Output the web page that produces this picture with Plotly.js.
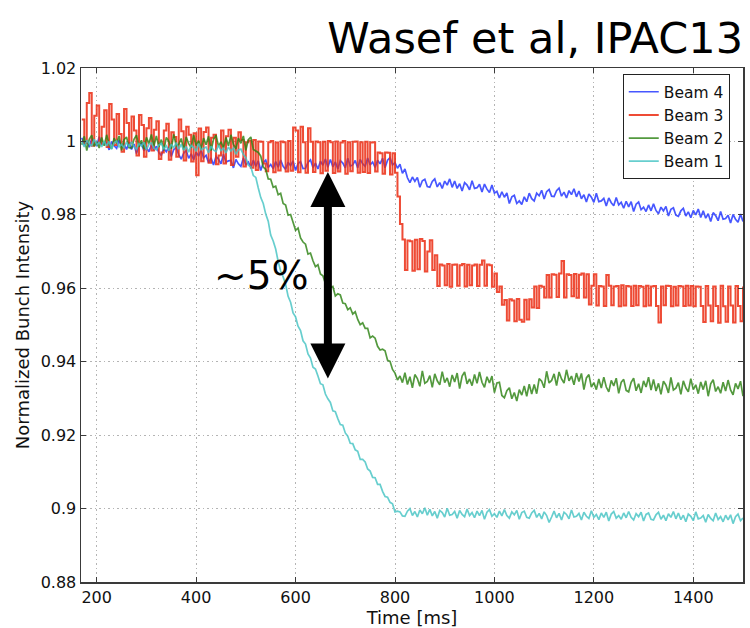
<!DOCTYPE html>
<html>
<head>
<meta charset="utf-8">
<script src="https://cdn.plot.ly/plotly-3.0.1.min.js"></script>
<style>html,body{margin:0;padding:0;background:#fff;}#chart{width:750px;height:628px;}</style>
</head>
<body>
<div id="chart"></div>
<script>
// Sampling grid: 170 ms to 1500 ms, 5 ms step (267 samples)
const tStart = 170, tStep = 5, nSamples = 267;

const seriesNames = ["Beam 4", "Beam 3", "Beam 2", "Beam 1"];

const beam4 = [
1.0010,0.9990,1.0003,0.9984,1.0007,1.0000,0.9987,1.0013,0.9992,0.9995,
0.9997,0.9977,1.0000,0.9988,0.9981,1.0004,0.9985,0.9993,0.9978,0.9998,
0.9978,0.9993,0.9967,0.9988,0.9995,0.9975,0.9983,0.9972,0.9991,0.9976,
0.9987,0.9970,0.9962,0.9981,0.9972,0.9985,0.9959,0.9978,0.9983,0.9964,
0.9952,0.9968,0.9975,0.9954,0.9966,0.9950,0.9971,0.9960,0.9977,0.9955,
0.9962,0.9942,0.9955,0.9936,0.9959,0.9952,0.9939,0.9965,0.9944,0.9947,
0.9948,0.9928,0.9951,0.9939,0.9932,0.9955,0.9936,0.9944,0.9929,0.9949,
0.9932,0.9947,0.9921,0.9942,0.9949,0.9929,0.9937,0.9926,0.9945,0.9930,
0.9949,0.9932,0.9924,0.9943,0.9934,0.9947,0.9921,0.9940,0.9945,0.9926,
0.9927,0.9943,0.9950,0.9929,0.9941,0.9925,0.9946,0.9935,0.9952,0.9930,
0.9951,0.9931,0.9944,0.9925,0.9948,0.9941,0.9928,0.9954,0.9933,0.9936,
0.9948,0.9928,0.9951,0.9939,0.9932,0.9955,0.9936,0.9944,0.9929,0.9949,
0.9939,0.9954,0.9928,0.9949,0.9956,0.9936,0.9942,0.9927,0.9938,0.9913,
0.9925,0.9901,0.9888,0.9903,0.9891,0.9902,0.9875,0.9893,0.9897,0.9877,
0.9875,0.9891,0.9898,0.9876,0.9888,0.9872,0.9892,0.9881,0.9898,0.9875,
0.9892,0.9872,0.9885,0.9865,0.9888,0.9881,0.9868,0.9893,0.9872,0.9874,
0.9883,0.9862,0.9884,0.9870,0.9861,0.9881,0.9859,0.9864,0.9846,0.9863,
0.9848,0.9860,0.9831,0.9849,0.9853,0.9831,0.9838,0.9828,0.9849,0.9836,
0.9859,0.9844,0.9838,0.9859,0.9852,0.9867,0.9843,0.9863,0.9869,0.9851,
0.9850,0.9866,0.9873,0.9851,0.9862,0.9846,0.9866,0.9855,0.9871,0.9849,
0.9865,0.9844,0.9855,0.9835,0.9857,0.9848,0.9834,0.9859,0.9836,0.9838,
0.9845,0.9824,0.9846,0.9833,0.9825,0.9847,0.9827,0.9834,0.9818,0.9837,
0.9822,0.9836,0.9809,0.9829,0.9835,0.9814,0.9821,0.9809,0.9827,0.9811,
0.9830,0.9812,0.9803,0.9821,0.9811,0.9823,0.9797,0.9815,0.9819,0.9799,
0.9796,0.9811,0.9818,0.9797,0.9808,0.9792,0.9812,0.9800,0.9816,0.9793,
0.9811,0.9791,0.9803,0.9782,0.9806,0.9798,0.9784,0.9809,0.9788,0.9790,
0.9799,0.9778,0.9801,0.9788,0.9780,0.9802,0.9782
];

const beam3 = [
1.0060,0.9995,1.0105,1.0132,0.9988,1.0070,1.0098,0.9992,1.0040,1.0085,
0.9985,1.0102,1.0060,0.9990,1.0075,1.0020,0.9972,1.0088,1.0050,0.9995,
1.0068,1.0030,0.9962,1.0072,1.0045,0.9958,1.0036,1.0064,0.9975,1.0032,
1.0055,0.9952,0.9970,1.0030,1.0048,0.9950,1.0025,1.0012,0.9958,1.0060,
1.0028,0.9948,1.0040,1.0018,0.9945,1.0022,0.9908,1.0035,0.9946,1.0026,
1.0038,0.9942,1.0010,1.0018,0.9938,0.9962,1.0030,0.9940,1.0014,1.0032,
0.9936,1.0010,0.9958,1.0025,1.0004,0.9932,0.9998,1.0002,0.9928,1.0004,
0.9922,1.0000,0.9999,0.9940,0.9919,0.9998,1.0001,0.9916,0.9997,0.9921,
1.0000,0.9998,0.9918,1.0001,0.9920,1.0038,1.0030,0.9916,1.0040,0.9998,
0.9915,1.0036,0.9999,0.9917,1.0000,0.9998,0.9913,0.9999,0.9920,1.0001,
0.9998,0.9914,1.0000,0.9918,0.9997,1.0001,0.9912,0.9998,0.9919,0.9999,
1.0000,0.9915,0.9998,0.9917,0.9999,0.9914,0.9997,0.9998,0.9918,0.9970,
0.9968,0.9912,0.9970,0.9969,0.9910,0.9968,0.9915,0.9850,0.9775,0.9733,
0.9650,0.9730,0.9728,0.9648,0.9732,0.9652,0.9734,0.9729,0.9646,0.9700,
0.9731,0.9650,0.9690,0.9606,0.9665,0.9662,0.9608,0.9666,0.9604,0.9664,
0.9665,0.9607,0.9663,0.9666,0.9605,0.9664,0.9608,0.9662,0.9665,0.9606,
0.9664,0.9676,0.9607,0.9665,0.9663,0.9604,0.9640,0.9590,0.9605,0.9555,
0.9568,0.9512,0.9570,0.9567,0.9510,0.9571,0.9514,0.9509,0.9569,0.9515,
0.9570,0.9548,0.9605,0.9546,0.9607,0.9604,0.9575,0.9636,0.9575,0.9638,
0.9637,0.9576,0.9640,0.9674,0.9575,0.9638,0.9636,0.9578,0.9639,0.9574,
0.9637,0.9640,0.9575,0.9638,0.9556,0.9607,0.9638,0.9553,0.9606,0.9605,
0.9552,0.9636,0.9607,0.9554,0.9605,0.9606,0.9551,0.9608,0.9553,0.9606,
0.9605,0.9552,0.9607,0.9554,0.9606,0.9604,0.9551,0.9607,0.9553,0.9605,
0.9606,0.9552,0.9507,0.9605,0.9554,0.9607,0.9606,0.9551,0.9604,0.9553,
0.9606,0.9605,0.9552,0.9607,0.9553,0.9606,0.9551,0.9605,0.9604,0.9552,
0.9508,0.9606,0.9553,0.9510,0.9605,0.9552,0.9506,0.9607,0.9551,0.9509,
0.9605,0.9553,0.9507,0.9606,0.9552,0.9510,0.9605
];

const beam2 = [
0.9991,1.0014,0.9975,1.0006,1.0017,0.9987,0.9999,0.9982,1.0011,0.9988,
1.0018,0.9992,0.9980,1.0009,0.9995,1.0015,0.9976,1.0005,1.0012,0.9983,
0.9982,1.0006,1.0017,0.9985,1.0003,0.9979,1.0011,0.9994,1.0019,0.9987,
1.0015,0.9985,1.0005,0.9976,1.0011,1.0000,0.9980,1.0019,0.9988,0.9992,
1.0008,0.9977,1.0012,0.9994,0.9983,1.0018,0.9989,1.0002,0.9979,1.0009,
0.9991,1.0014,0.9975,1.0006,1.0017,0.9987,0.9999,0.9982,1.0011,0.9988,
1.0018,0.9992,0.9980,1.0009,0.9995,1.0015,0.9976,1.0005,1.0012,0.9978,
0.9974,0.9970,0.9960,0.9930,0.9924,0.9898,0.9897,0.9875,0.9878,0.9855,
0.9859,0.9831,0.9827,0.9799,0.9801,0.9782,0.9758,0.9764,0.9737,0.9726,
0.9720,0.9693,0.9696,0.9675,0.9659,0.9664,0.9639,0.9634,0.9613,0.9619,
0.9602,0.9605,0.9579,0.9585,0.9582,0.9560,0.9558,0.9542,0.9547,0.9530,
0.9536,0.9515,0.9501,0.9506,0.9491,0.9491,0.9465,0.9470,0.9464,0.9442,
0.9432,0.9434,0.9430,0.9404,0.9401,0.9379,0.9369,0.9350,0.9361,0.9343,
0.9370,0.9338,0.9359,0.9329,0.9365,0.9354,0.9333,0.9375,0.9341,0.9346,
0.9362,0.9330,0.9367,0.9348,0.9337,0.9373,0.9343,0.9356,0.9332,0.9364,
0.9345,0.9369,0.9327,0.9361,0.9372,0.9340,0.9353,0.9335,0.9365,0.9341,
0.9372,0.9344,0.9330,0.9359,0.9342,0.9361,0.9316,0.9342,0.9344,0.9308,
0.9302,0.9321,0.9329,0.9299,0.9316,0.9293,0.9324,0.9309,0.9334,0.9306,
0.9339,0.9312,0.9338,0.9313,0.9354,0.9347,0.9329,0.9374,0.9342,0.9349,
0.9367,0.9335,0.9372,0.9353,0.9342,0.9378,0.9348,0.9361,0.9337,0.9369,
0.9346,0.9368,0.9324,0.9356,0.9365,0.9331,0.9343,0.9324,0.9353,0.9328,
0.9358,0.9331,0.9318,0.9349,0.9334,0.9355,0.9314,0.9344,0.9352,0.9322,
0.9318,0.9344,0.9355,0.9321,0.9340,0.9315,0.9348,0.9331,0.9358,0.9323,
0.9352,0.9320,0.9341,0.9311,0.9347,0.9336,0.9315,0.9357,0.9323,0.9328,
0.9343,0.9311,0.9348,0.9329,0.9318,0.9354,0.9324,0.9337,0.9313,0.9345,
0.9324,0.9348,0.9306,0.9340,0.9351,0.9319,0.9332,0.9314,0.9344,0.9320,
0.9350,0.9323,0.9310,0.9341,0.9326,0.9347,0.9306
];

const beam1 = [
1.0001,0.9985,1.0003,0.9993,0.9988,1.0006,0.9991,0.9997,0.9985,1.0001,
0.9988,1.0000,0.9979,0.9996,1.0001,0.9985,0.9992,0.9983,0.9998,0.9986,
0.9999,0.9986,0.9979,0.9994,0.9987,0.9998,0.9977,0.9992,0.9996,0.9981,
0.9977,0.9990,0.9995,0.9979,0.9988,0.9975,0.9992,0.9983,0.9997,0.9979,
0.9992,0.9976,0.9986,0.9971,0.9989,0.9984,0.9973,0.9994,0.9977,0.9980,
0.9985,0.9969,0.9987,0.9977,0.9972,0.9990,0.9975,0.9981,0.9969,0.9985,
0.9974,0.9982,0.9965,0.9977,0.9979,0.9964,0.9956,0.9935,0.9931,0.9907,
0.9902,0.9873,0.9847,0.9831,0.9802,0.9783,0.9745,0.9729,0.9707,0.9673,
0.9647,0.9631,0.9611,0.9578,0.9562,0.9533,0.9522,0.9497,0.9485,0.9457,
0.9448,0.9421,0.9410,0.9385,0.9380,0.9361,0.9340,0.9337,0.9312,0.9299,
0.9289,0.9266,0.9264,0.9245,0.9229,0.9227,0.9206,0.9197,0.9178,0.9177,
0.9160,0.9156,0.9134,0.9134,0.9127,0.9108,0.9102,0.9085,0.9084,0.9066,
0.9066,0.9047,0.9033,0.9031,0.9017,0.9013,0.8991,0.8993,0.8991,0.8980,
0.8979,0.8993,0.9000,0.8981,0.8992,0.8977,0.8996,0.8986,0.9002,0.8982,
0.8998,0.8980,0.8992,0.8974,0.8995,0.8989,0.8977,0.9001,0.8982,0.8984,
0.8992,0.8974,0.8995,0.8984,0.8978,0.8999,0.8981,0.8989,0.8975,0.8993,
0.8981,0.8995,0.8971,0.8990,0.8997,0.8979,0.8986,0.8976,0.8993,0.8980,
0.8997,0.8981,0.8974,0.8991,0.8983,0.8995,0.8971,0.8989,0.8993,0.8976,
0.8974,0.8988,0.8995,0.8976,0.8987,0.8972,0.8991,0.8981,0.8962,0.8977,
0.8993,0.8975,0.8987,0.8969,0.8990,0.8984,0.8972,0.8996,0.8977,0.8979,
0.8987,0.8969,0.8990,0.8979,0.8973,0.8994,0.8976,0.8984,0.8970,0.8988,
0.8976,0.8990,0.8966,0.8985,0.8992,0.8974,0.8981,0.8971,0.8988,0.8975,
0.8992,0.8976,0.8969,0.8986,0.8978,0.8990,0.8966,0.8984,0.8988,0.8971,
0.8969,0.8983,0.8990,0.8971,0.8982,0.8967,0.8986,0.8976,0.8992,0.8972,
0.8988,0.8970,0.8982,0.8964,0.8985,0.8979,0.8967,0.8991,0.8972,0.8974,
0.8981,0.8963,0.8984,0.8973,0.8967,0.8988,0.8970,0.8978,0.8964,0.8982,
0.8969,0.8983,0.8959,0.8978,0.8985,0.8967,0.8974
];

const xTickVals = [200, 400, 600, 800, 1000, 1200, 1400];
const xTickText = ["200", "400", "600", "800", "1000", "1200", "1400"];
const yTickVals = [0.88, 0.9, 0.92, 0.94, 0.96, 0.98, 1, 1.02];
const yTickText = ["0.88", "0.9", "0.92", "0.94", "0.96", "0.98", "1", "1.02"];

const times = [];
for (let i = 0; i < nSamples; i++) times.push(tStart + i * tStep);

const colors = ["rgb(30,50,255)", "rgb(235,45,20)", "rgb(45,130,20)", "rgb(70,195,195)"];
const shapes = ["linear", "hv", "linear", "linear"];
const widths = [1.7, 2.0, 1.7, 1.7];
const opac = [0.82, 0.86, 0.82, 0.82];
const allSeries = [beam4, beam3, beam2, beam1];

const FONT = "DejaVu Sans, sans-serif";

const traces = allSeries.map((ys, k) => ({
  type: "scatter",
  mode: "lines",
  name: seriesNames[k],
  x: times,
  y: ys,
  opacity: opac[k],
  line: { color: colors[k], width: widths[k], shape: shapes[k] },
  hoverinfo: "skip"
}));

const axisCommon = {
  showline: true,
  linecolor: "#3a3a3a",
  linewidth: 1.5,
  mirror: "ticks",
  ticks: "inside",
  ticklen: 5,
  tickwidth: 1,
  tickcolor: "#3a3a3a",
  showgrid: true,
  gridcolor: "#b4b4b4",
  gridwidth: 1,
  griddash: "1.5px,3px",
  zeroline: false,
  tickfont: { family: FONT, size: 16, color: "#111" }
};

const layout = {
  width: 750,
  height: 628,
  margin: { l: 81, r: 7, t: 68, b: 46 },
  paper_bgcolor: "#ffffff",
  plot_bgcolor: "#ffffff",
  showlegend: true,
  title: {
    text: "Wasef et al, IPAC13",
    font: { family: FONT, size: 43, color: "#000" },
    xref: "paper", x: 1, xanchor: "right",
    yref: "container", y: 0.94, yanchor: "middle"
  },
  xaxis: Object.assign({}, axisCommon, {
    range: [168.4, 1500],
    tickmode: "array",
    tickvals: xTickVals,
    ticktext: xTickText,
    title: { text: "Time [ms]", font: { family: FONT, size: 18, color: "#111" }, standoff: 0 }
  }),
  yaxis: Object.assign({}, axisCommon, {
    range: [0.88, 1.02],
    tickmode: "array",
    tickvals: yTickVals,
    ticktext: yTickText,
    title: { text: "Normalized Bunch Intensity", font: { family: FONT, size: 18, color: "#111" }, standoff: 6 }
  }),
  legend: {
    x: 0.98, xanchor: "right",
    y: 0.988, yanchor: "top",
    bgcolor: "#ffffff",
    bordercolor: "#222",
    borderwidth: 1,
    font: { family: FONT, size: 15.5, color: "#111" },
    tracegroupgap: 0
  },
  annotations: [
    {
      xref: "x", yref: "y",
      x: 532, y: 0.9634,
      text: "~5%",
      showarrow: false,
      font: { family: FONT, size: 39, color: "#000" }
    },
    {
      xref: "x", yref: "y", axref: "x", ayref: "y",
      x: 665, y: 0.9917,
      ax: 665, ay: 0.9350,
      text: "",
      showarrow: true,
      arrowside: "end+start",
      arrowhead: 2,
      startarrowhead: 2,
      arrowsize: 0.875,
      startarrowsize: 0.875,
      arrowwidth: 8,
      arrowcolor: "#000",
      standoff: 0,
      startstandoff: 0
    }
  ]
};

Plotly.newPlot("chart", traces, layout, { displayModeBar: false, staticPlot: true });
</script>
</body>
</html>
